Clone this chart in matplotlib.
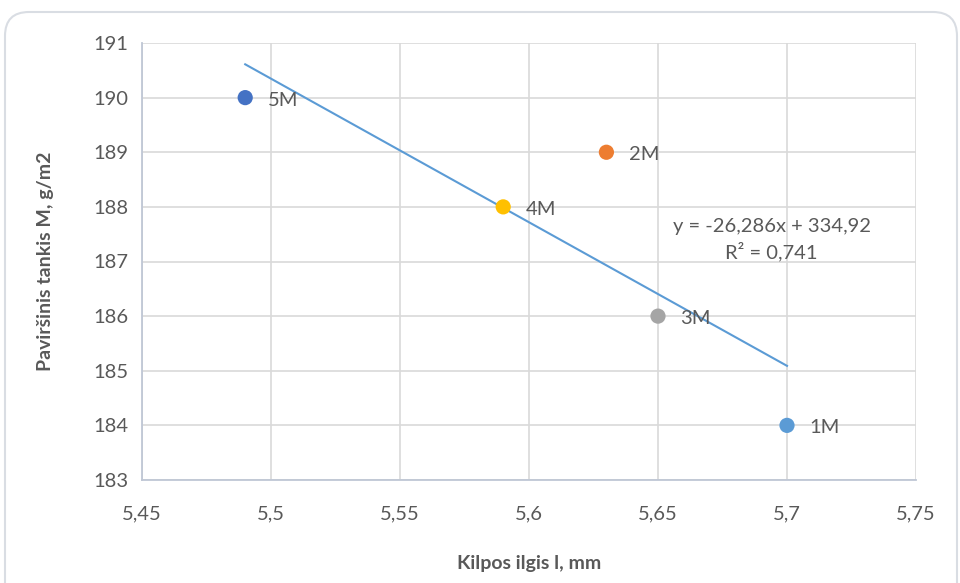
import matplotlib.pyplot as plt
from matplotlib.patches import FancyBboxPatch
from matplotlib.transforms import IdentityTransform
import numpy as np

# measured samples
labels = ["1M", "2M", "3M", "4M", "5M"]
loop_len = [5.70, 5.63, 5.65, 5.59, 5.49]
density = [184, 189, 186, 188, 190]
colors = ["#5B9BD5", "#ED7D31", "#A5A5A5", "#FFC000", "#4472C4"]

# linear trend
slope = -26.286
intercept = 334.92
r2 = 0.741

plt.rcParams['font.family'] = ['Lato', 'DejaVu Sans']
txt = "#595959"

fig = plt.figure(figsize=(9.6, 5.83), dpi=100)
# rounded chart frame, in pixels
frame = FancyBboxPatch((5, -30), 952, 583 - 12 + 30,
                       boxstyle="round,pad=0,rounding_size=24",
                       transform=IdentityTransform(), facecolor="white",
                       edgecolor="#D9DDE3", linewidth=1.5, zorder=-1)
fig.add_artist(frame)

ax = fig.add_axes([142 / 960, 1 - 480 / 583, (916 - 142) / 960, (480 - 43) / 583])
ax.set_facecolor("none")

x_tr = np.array([min(loop_len), max(loop_len)])
ax.plot(x_tr, slope * x_tr + intercept, color="#5B9BD5", linewidth=1.5, zorder=2)

for x, y, c, lab in zip(loop_len, density, colors, labels):
    ax.scatter(x, y, s=120, color=c, zorder=3, edgecolors="none")
    ax.annotate(lab, (x, y), xytext=(16, -8), textcoords="offset points",
                color=txt, fontsize=14.5, va="bottom", ha="left")

eq = "y = {:.3f}x + {:.2f}\nR² = {:.3f}".format(slope, intercept, r2).replace(".", ",")
ax.text(5.694, 187.4, eq, color=txt, fontsize=14.5, ha="center", va="center", linespacing=1.45)

ax.set_xlim(5.45, 5.75)
ax.set_ylim(183, 191)
ax.set_xticks(np.arange(5.45, 5.751, 0.05))
ax.set_xticklabels(["5,45", "5,5", "5,55", "5,6", "5,65", "5,7", "5,75"])
ax.set_yticks(range(183, 192))
ax.grid(True, color="#D9D9D9", linewidth=1.2)
ax.set_axisbelow(True)
for s in ["top", "right"]:
    ax.spines[s].set_visible(False)
for s in ["left", "bottom"]:
    ax.spines[s].set_color("#BFC7D5")
    ax.spines[s].set_linewidth(1.3)
ax.tick_params(length=0, colors=txt, labelsize=14.5, pad=10)
ax.tick_params(axis="x", pad=18)

ax.set_xlabel("Kilpos ilgis l, mm", color=txt, fontsize=14, fontweight="bold", labelpad=24)
ax.set_ylabel("Paviršinis tankis M, g/m2", color=txt, fontsize=14, fontweight="bold", labelpad=28)

fig.savefig("out.png", dpi=100)
